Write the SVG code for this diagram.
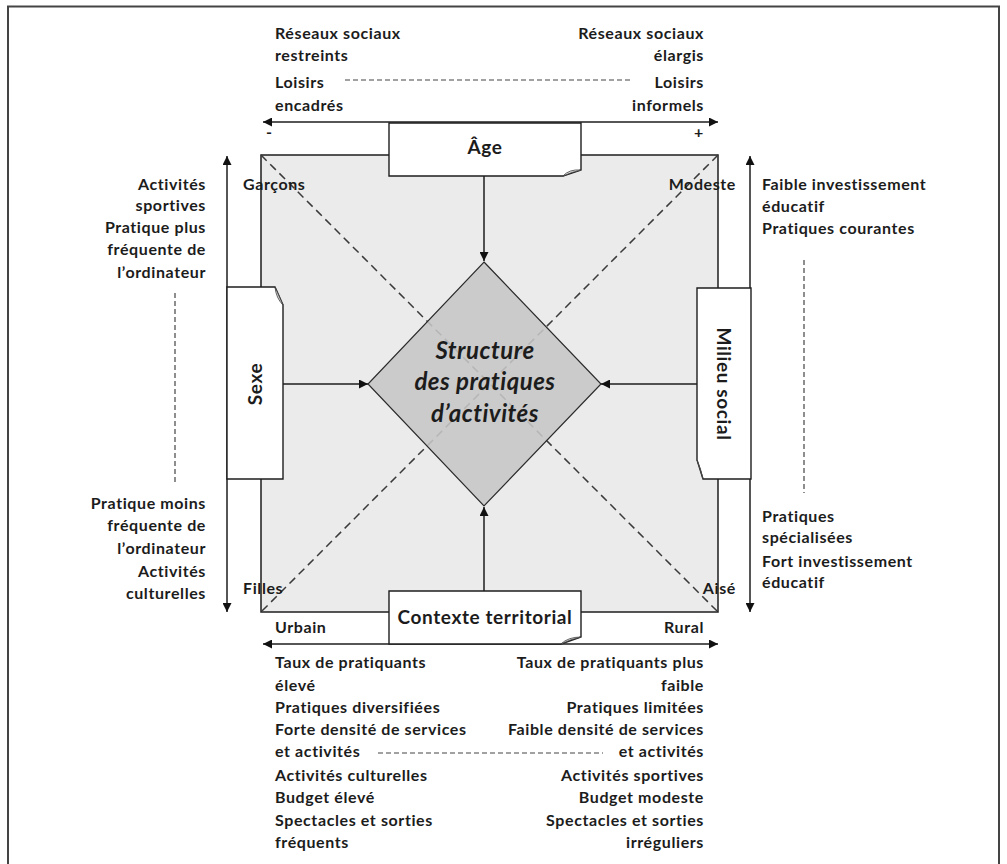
<svg xmlns="http://www.w3.org/2000/svg" width="1007" height="864" viewBox="0 0 1007 864">
<defs>
<marker id="ah" viewBox="0 0 10 10" refX="10" refY="5" markerWidth="9" markerHeight="9" markerUnits="userSpaceOnUse" orient="auto-start-reverse">
<path d="M0,0 L10,5 L0,10 Z" fill="#111"/>
</marker>
<style>
.t{font-family:Lato,"Liberation Sans",sans-serif;font-weight:bold;font-size:16px;letter-spacing:0.6px;fill:#1c1c1c}
.r{text-anchor:end}
.c{text-anchor:middle}
.big{font-size:19px}
.ctr{font-size:24px;font-style:italic;letter-spacing:0.5px}
.ln{stroke:#1e1e1e;stroke-width:1.5;fill:none}
.ax{stroke:#1e1e1e;stroke-width:1.5;fill:none;marker-start:url(#ah);marker-end:url(#ah)}
.ar{stroke:#1e1e1e;stroke-width:1.5;fill:none;marker-end:url(#ah)}
.dash{stroke:#3a3a3a;stroke-width:1.5;stroke-dasharray:8,5;fill:none}
.dsh{stroke:#444;stroke-width:1.2;stroke-dasharray:5,3;fill:none}
.box{fill:#fff;stroke:#1e1e1e;stroke-width:1.4}
.curl{fill:#d8d8d8;stroke:#444;stroke-width:0.8}
</style>
</defs>
<rect width="1007" height="864" fill="#fff"/>
<path d="M8,870 V6.5 H999 V870" stroke="#444" stroke-width="2" fill="none"/>

<g id="square">
<rect x="261" y="155" width="457" height="457" fill="#ebebeb" stroke="#1e1e1e" stroke-width="1.5"/>
</g>

<g id="connectors">
<line class="dash" x1="261" y1="155" x2="718" y2="612"/>
<line class="dash" x1="718" y1="155" x2="261" y2="612"/>
<line class="ax" x1="263" y1="122" x2="718" y2="122"/>
<line class="ax" x1="263" y1="644" x2="718" y2="644"/>
<line class="ax" x1="227" y1="156" x2="227" y2="612"/>
<line class="ax" x1="750" y1="156" x2="750" y2="612"/>
<line class="dsh" x1="345" y1="80" x2="633" y2="80"/>
<line class="dsh" x1="378" y1="753" x2="603" y2="753"/>
<line class="dsh" x1="175" y1="293" x2="175" y2="485"/>
<line class="dsh" x1="804" y1="260" x2="804" y2="493"/>
<line class="ar" x1="484" y1="176" x2="484" y2="261"/>
<line class="ar" x1="283" y1="384" x2="368" y2="384"/>
<line class="ar" x1="697" y1="384" x2="601" y2="384"/>
<line class="ar" x1="484" y1="591" x2="484" y2="507"/>
</g>

<g id="centre">
<polygon points="484,262 601,384 484,506 368,384" fill="#c6c6c6" fill-opacity="0.88" stroke="#2a2a2a" stroke-width="1.2"/>
<text class="t ctr c" x="485" y="359">Structure</text>
<text class="t ctr c" x="485" y="390">des pratiques</text>
<text class="t ctr c" x="485" y="422">d’activités</text>
</g>

<g id="age">
<path class="box" d="M389,123 H581 V170 L563,176 H389 Z"/>
<path class="curl" d="M563,176 Q569,169 581,170 Q572,172 563,176 Z"/>
<text class="t big c" x="485" y="154">Âge</text>
</g>

<g id="sexe">
<path class="box" d="M227,287 H275 L283,305 V479 H227 Z"/>
<path class="curl" d="M275,287 Q276,298 283,305 Q279,296 275,287 Z"/>
<text class="t big c" transform="translate(262,384) rotate(-90)">Sexe</text>
</g>

<g id="milieu">
<path class="box" d="M697,288 H751 V479 H703 L697,460 Z"/>
<path class="curl" d="M697,460 Q701,469 703,479 Q700,468 697,460 Z"/>
<text class="t big c" transform="translate(717,384) rotate(90)">Milieu social</text>
</g>

<g id="contexte">
<path class="box" d="M389,591 H581 V637 L561,644 H389 Z"/>
<path class="curl" d="M561,644 Q568,637 581,637 Q571,639 561,644 Z"/>
<text class="t big c" x="485" y="624">Contexte territorial</text>
</g>

<g id="labels">
<text class="t" x="275" y="39">Réseaux sociaux</text>
<text class="t" x="275" y="61">restreints</text>
<text class="t" x="275" y="88">Loisirs</text>
<text class="t" x="275" y="111">encadrés</text>
<text class="t r" x="704" y="39">Réseaux sociaux</text>
<text class="t r" x="704" y="61">élargis</text>
<text class="t r" x="704" y="88">Loisirs</text>
<text class="t r" x="704" y="111">informels</text>
<text class="t" x="266" y="138">-</text>
<text class="t" x="694" y="138">+</text>

<text class="t r" x="206" y="190">Activités</text>
<text class="t r" x="206" y="211">sportives</text>
<text class="t r" x="206" y="233">Pratique plus</text>
<text class="t r" x="206" y="255">fréquente de</text>
<text class="t r" x="206" y="278">l’ordinateur</text>
<text class="t r" x="206" y="509">Pratique moins</text>
<text class="t r" x="206" y="531">fréquente de</text>
<text class="t r" x="206" y="554">l’ordinateur</text>
<text class="t r" x="206" y="577">Activités</text>
<text class="t r" x="206" y="599">culturelles</text>
<text class="t" x="243" y="190">Garçons</text>
<text class="t" x="243" y="594">Filles</text>

<text class="t" x="762" y="190">Faible investissement</text>
<text class="t" x="762" y="212">éducatif</text>
<text class="t" x="762" y="234">Pratiques courantes</text>
<text class="t" x="762" y="522">Pratiques</text>
<text class="t" x="762" y="543">spécialisées</text>
<text class="t" x="762" y="567">Fort investissement</text>
<text class="t" x="762" y="588">éducatif</text>
<text class="t r" x="736" y="190">Modeste</text>
<text class="t r" x="736" y="594">Aisé</text>

<text class="t" x="275" y="633">Urbain</text>
<text class="t r" x="704" y="633">Rural</text>
<text class="t" x="275" y="668">Taux de pratiquants</text>
<text class="t" x="275" y="691">élevé</text>
<text class="t" x="275" y="713">Pratiques diversifiées</text>
<text class="t" x="275" y="735">Forte densité de services</text>
<text class="t" x="275" y="757">et activités</text>
<text class="t" x="275" y="781">Activités culturelles</text>
<text class="t" x="275" y="803">Budget élevé</text>
<text class="t" x="275" y="826">Spectacles et sorties</text>
<text class="t" x="275" y="848">fréquents</text>
<text class="t r" x="704" y="668">Taux de pratiquants plus</text>
<text class="t r" x="704" y="691">faible</text>
<text class="t r" x="704" y="713">Pratiques limitées</text>
<text class="t r" x="704" y="735">Faible densité de services</text>
<text class="t r" x="704" y="757">et activités</text>
<text class="t r" x="704" y="781">Activités sportives</text>
<text class="t r" x="704" y="803">Budget modeste</text>
<text class="t r" x="704" y="826">Spectacles et sorties</text>
<text class="t r" x="704" y="848">irréguliers</text>
</g>
</svg>
